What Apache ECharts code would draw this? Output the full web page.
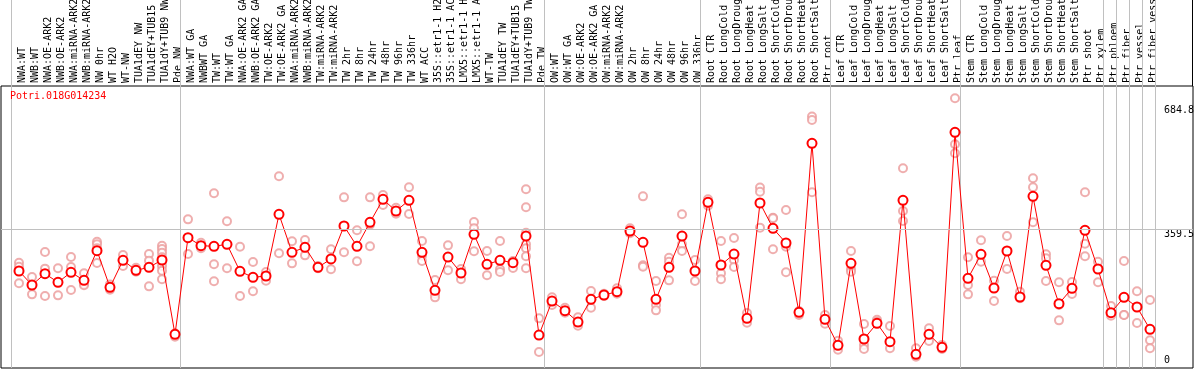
<!DOCTYPE html>
<html>
<head>
<meta charset="utf-8">
<script src="https://cdn.jsdelivr.net/npm/echarts@6/dist/echarts.min.js"></script>
<style>
html,body{margin:0;padding:0;background:#fff;}
#chart{width:1194px;height:370px;}
</style>
</head>
<body>
<div id="chart"></div>
<script>
const geneName = 'Potri.018G014234';

const categories = [
  'NWA:WT','NWB:WT','NWA:OE-ARK2','NWB:OE-ARK2','NWA:miRNA-ARK2','NWB:miRNA-ARK2','NW 0hr','WT H2O','WT-NW','TUA1dEY NW','TUA1dEY+TUB15 NW','TUA1dY+TUB9 NW','Pde NW',
  'NWA:WT GA','NWBWT GA','TW:WT','TW:WT GA','NWA:OE-ARK2 GA','NWB:OE-ARK2 GA','TW:OE-ARK2','TW:OE-ARK2 GA','NWA:miRNA-ARK2 GA','NWB:miRNA-ARK2 GA','TW:miRNA-ARK2','TW:miRNA-ARK2','TW 2hr','TW 8hr','TW 24hr','TW 48hr','TW 96hr','TW 336hr','WT ACC','35S::etr1-1 H2O','35S::etr1-1 ACC','LMX5::etr1-1 H2O','LMX5::etr1-1 ACC','WT-TW','TUA1dEY TW','TUA1dEY+TUB15 TW','TUA1dY+TUB9 TW','Pde TW',
  'OW:WT','OW:WT GA','OW:OE-ARK2','OW:OE-ARK2 GA','OW:miRNA-ARK2','OW:miRNA-ARK2','OW 2hr','OW 8hr','OW 24hr','OW 48hr','OW 96hr','OW 336hr',
  'Root CTR','Root LongCold','Root LongDrought','Root LongHeat','Root LongSalt','Root ShortCold','Root ShortDrought','Root ShortHeat','Root ShortSalt','Ptr root',
  'Leaf CTR','Leaf LongCold','Leaf LongDrought','Leaf LongHeat','Leaf LongSalt','Leaf ShortCold','Leaf ShortDrought','Leaf ShortHeat','Leaf ShortSalt','Ptr leaf',
  'Stem CTR','Stem LongCold','Stem LongDrought','Stem LongHeat','Stem LongSalt','Stem ShortCold','Stem ShortDrought','Stem ShortHeat','Stem ShortSalt','Ptr shoot','Ptr xylem',
  'Ptr phloem','Ptr fiber','Ptr vessel','Ptr fiber vessel'
];

// index of the first sample of each group (plus the closing boundary)
const groupStarts = [0, 13, 41, 53, 63, 73, 84, 85, 86, 87, 88];

// mean expression per sample
const means = [
  248.8, 211.9, 241.8, 218.9, 245.3, 224.1, 302.5, 205.7, 277.0, 250.6, 258.5, 277.8, 81.7,
  336.8, 315.7, 313.9, 319.2, 247.9, 232.1, 235.6, 398.3, 298.1, 311.3, 258.5, 280.5, 367.5, 313.9, 377.2, 437.8, 407.1, 435.3, 298.1, 197.8, 285.7, 243.5, 345.6, 266.4, 277.0, 270.8, 341.1, 79.9,
  169.4, 144.1, 114.2, 174.0, 185.5, 194.2, 354.3, 324.4, 174.0, 258.5, 341.1, 248.8,
  430.0, 264.6, 293.6, 123.9, 428.2, 361.4, 322.7, 139.7, 585.7, 121.3,
  52.7, 269.0, 69.4, 110.7, 62.4, 435.3, 28.9, 81.7, 47.4, 614.7,
  229.5, 292.8, 203.9, 301.6, 180.2, 445.8, 263.8, 162.6, 203.0, 356.1, 254.1,
  138.8, 179.3, 153.8, 94.9
];

// individual replicate values per sample
const replicates = [
  [270.8, 260.2, 216.3], [233.0, 211.9, 187.2], [298.9, 255.0, 182.8], [255.9, 218.9, 184.5], [285.7, 259.4, 198.7],
  [242.6, 214.5, 211.0], [326.2, 319.2, 308.6, 269.9], [213.5, 203.0, 199.5], [291.1, 262.1], [257.6, 247.0],
  [293.7, 276.1, 208.3], [315.6, 306.8, 297.2, 284.9, 273.4, 262.1, 249.7, 226.8], [84.3, 75.5],
  [385.1, 293.7], [323.5, 308.6], [453.7, 266.4, 221.6], [379.9, 255.9], [313.0, 182.8], [272.6, 195.2], [246.2, 223.3],
  [498.6, 295.4], [327.1, 269.0], [330.6, 290.1], [262.0, 255.9], [306.0, 253.3], [443.1, 298.1], [356.1, 274.3],
  [443.1, 371.0, 313.9], [449.2, 422.9], [415.9, 400.1], [469.6, 399.2], [328.0, 289.3, 275.2], [225.1, 189.0, 179.3],
  [316.5, 250.6], [254.1, 226.8], [378.1, 361.4, 300.7], [301.6, 237.4], [328.0, 253.3, 246.2], [275.2, 256.7],
  [464.3, 416.8, 349.9, 319.2, 308.6, 287.5, 255.9], [123.9, 35.1],
  [179.3, 159.0], [152.0, 138.8], [126.6, 104.6], [196.0, 152.0], [189.0, 182.8], [203.0, 189.0], [361.4, 348.2],
  [445.7, 263.8, 260.3], [222.4, 159.0, 145.0], [283.9, 273.4, 224.1], [398.3, 319.2, 301.6], [277.8, 222.4],
  [437.8, 421.1], [328.0, 242.6, 226.8], [335.9, 277.8, 259.4], [138.0, 112.5], [468.8, 458.1, 363.2],
  [389.5, 387.8, 306.0], [409.8, 313.0, 245.3], [143.3, 132.7], [656.1, 647.3, 456.4], [132.7, 109.8],
  [65.0, 41.2], [301.6, 254.1, 247.0], [109.0, 53.6, 43.0], [120.4, 115.1], [103.7, 44.8], [519.9, 407.3, 380.8],
  [44.8, 22.8], [97.5, 64.1], [53.6, 43.0], [704.4, 583.0, 559.3],
  [284.9, 211.9, 187.2], [329.7, 273.4], [223.3, 169.7], [341.1, 254.1], [194.2, 176.7], [493.3, 469.6, 377.2],
  [292.8, 282.2, 222.4], [218.9, 159.0, 118.6], [219.8, 188.1], [456.4, 320.9, 287.5], [273.4, 218.9],
  [156.5, 131.0], [275.2, 132.7, 132.7], [195.2, 111.6], [172.2, 65.9, 44.8]
];

const yLabelsTop = [359.5, 684.8];
const yLabelsBottom = [0];
const refLine = 359.5;

const MONO = '"DejaVu Sans Mono", "Liberation Mono", monospace';

const repData = [];
replicates.forEach((arr, i) => arr.forEach(v => repData.push([i, v])));
const meanData = means.map((v, i) => [i, v]);

const xMin = -1.3846, xMax = 90.3077;
const yMin = -7.12, yMax = 736.9;

const chart = echarts.init(document.getElementById('chart'), null, {renderer: 'canvas'});
chart.setOption({
  animation: false,
  backgroundColor: '#ffffff',
  title: {
    text: geneName, left: 10, top: 91, padding: 0,
    textStyle: {color: '#ff0000', fontFamily: MONO, fontSize: 10, fontWeight: 'normal'}
  },
  graphic: [
    {type: 'line', shape: {x1: 1192.5, y1: 0, x2: 1192.5, y2: 86}, style: {stroke: '#000', lineWidth: 1}, silent: true}
  ],
  grid: [
    {left: 1, right: 1, top: 86, bottom: 2, show: true, borderColor: '#000', borderWidth: 1,
     backgroundColor: 'transparent', outerBoundsMode: 'none', containLabel: false},
    {left: 15.5, width: 1144, top: 86, bottom: 2, outerBoundsMode: 'none', containLabel: false}
  ],
  xAxis: [
    {type: 'value', gridIndex: 0, min: xMin, max: xMax, show: false},
    {type: 'category', gridIndex: 1, position: 'top', data: categories, boundaryGap: true,
     axisLine: {show: false}, axisTick: {show: false}, splitLine: {show: false},
     axisLabel: {interval: 0, rotate: 90, margin: 3, align: 'left', verticalAlign: 'middle',
       color: '#000', fontFamily: MONO, fontSize: 10}}
  ],
  yAxis: [
    {type: 'value', gridIndex: 0, min: yMin, max: yMax, position: 'right',
     axisLine: {show: false}, axisTick: {show: false}, splitLine: {show: false},
     axisLabel: {inside: true, margin: 29, align: 'left', verticalAlign: 'top', customValues: yLabelsTop,
       color: '#000', fontFamily: MONO, fontSize: 10, lineHeight: 10, formatter: v => String(v)}},
    {type: 'value', gridIndex: 0, min: yMin, max: yMax, position: 'right',
     axisLine: {show: false}, axisTick: {show: false}, splitLine: {show: false},
     axisLabel: {inside: true, margin: 29, align: 'left', verticalAlign: 'bottom', customValues: yLabelsBottom,
       color: '#000', fontFamily: MONO, fontSize: 10, lineHeight: 10, formatter: v => String(v)}},
    {type: 'value', gridIndex: 1, show: false}
  ],
  series: [
    {
      type: 'custom', xAxisIndex: 0, yAxisIndex: 0, clip: false, silent: true, z: 1,
      data: groupStarts.map(g => [g]),
      renderItem: function (params, api) {
        const x = Math.round(api.coord([api.value(0) - 0.65, 0])[0]) + 0.5;
        const bottom = params.coordSys.y + params.coordSys.height;
        return {type: 'line', shape: {x1: x, y1: 0, x2: x, y2: bottom},
                style: {stroke: '#c0c0c0', lineWidth: 1}};
      },
      markLine: {
        silent: true, symbol: 'none', label: {show: false},
        lineStyle: {color: '#c0c0c0', width: 1, type: 'solid'},
        data: [{yAxis: refLine}]
      }
    },
    {
      type: 'scatter', xAxisIndex: 0, yAxisIndex: 0, data: repData, z: 2,
      symbol: 'emptyCircle', symbolSize: 8,
      itemStyle: {color: '#eb9a9a', borderColor: '#eb9a9a', borderWidth: 1}
    },
    {
      type: 'line', xAxisIndex: 0, yAxisIndex: 0, data: meanData, z: 3,
      symbol: 'emptyCircle', symbolSize: 9, showAllSymbol: true,
      lineStyle: {color: '#ff0000', width: 1},
      itemStyle: {color: '#ff0000', borderColor: '#ff0000', borderWidth: 1.3}
    }
  ]
});
</script>
</body>
</html>
